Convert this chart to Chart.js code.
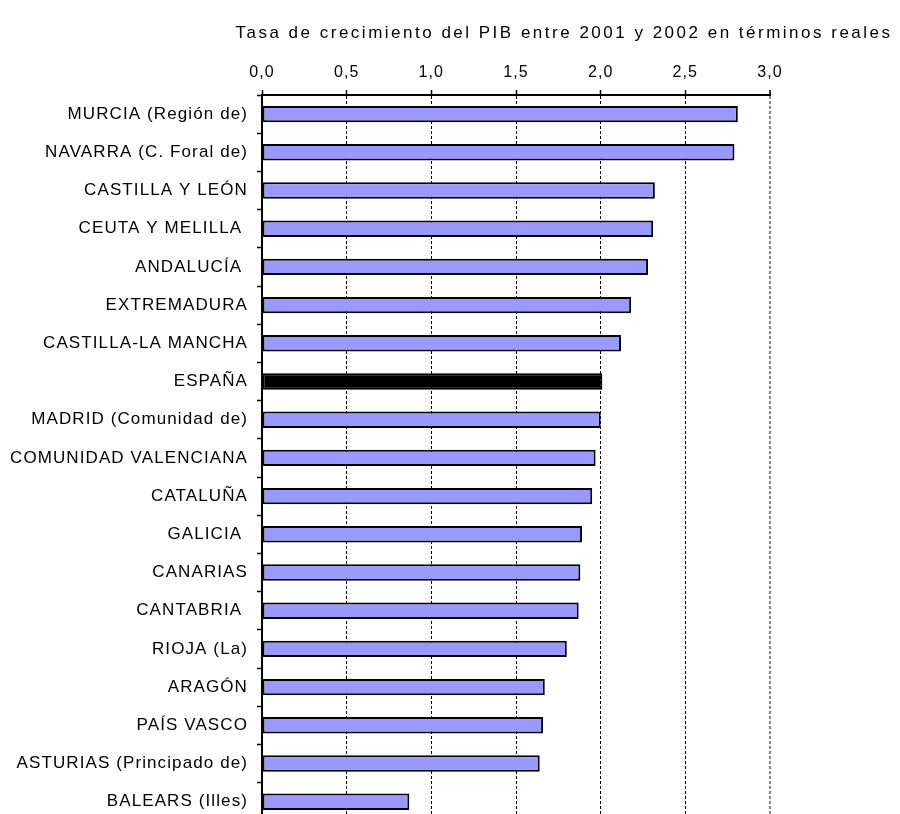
<!DOCTYPE html>
<html>
<head>
<meta charset="utf-8">
<script src="https://cdn.jsdelivr.net/npm/chart.js@4.4.1/dist/chart.umd.min.js"></script>
<style>
  html, body { margin: 0; padding: 0; background: #fff; overflow: hidden; width: 900px; height: 814px; }
  #wrap { position: absolute; left: 0; top: 0; width: 900px; height: 840px; }
</style>
</head>
<body>
<div id="wrap"><canvas id="c"></canvas></div>
<script>
const chartTitle = "Tasa de crecimiento del PIB entre 2001 y 2002 en términos reales";
const categories = [
  "MURCIA (Región de)", "NAVARRA (C. Foral de)", "CASTILLA Y LEÓN", "CEUTA Y MELILLA ",
  "ANDALUCÍA ", "EXTREMADURA", "CASTILLA-LA MANCHA", "ESPAÑA", "MADRID (Comunidad de)",
  "COMUNIDAD VALENCIANA", "CATALUÑA", "GALICIA ", "CANARIAS", "CANTABRIA ",
  "RIOJA (La)", "ARAGÓN", "PAÍS VASCO", "ASTURIAS (Principado de)", "BALEARS (Illes)"
];
const growthValues = [2.81, 2.79, 2.32, 2.31, 2.28, 2.18, 2.12, 2.01, 2.00, 1.97, 1.95, 1.89, 1.88, 1.87, 1.80, 1.67, 1.66, 1.64, 0.87];
const highlightCategory = "ESPAÑA";

const FONT = "'Liberation Sans', Arial, sans-serif";
const SPACING = '1.1px';

const spacingPlugin = {
  id: 'spacing',
  beforeLayout(chart) { chart.ctx.letterSpacing = SPACING; },
  beforeDraw(chart) { chart.ctx.letterSpacing = SPACING; },
  afterDraw(chart) {
    const ctx = chart.ctx;
    ctx.save();
    ctx.letterSpacing = '2.5px';
    ctx.font = "17px " + FONT;
    ctx.fillStyle = '#000';
    ctx.textAlign = 'center';
    ctx.textBaseline = 'middle';
    ctx.fillText(chartTitle, 564, 33);
    ctx.restore();
  }
};

new Chart(document.getElementById('c'), {
  type: 'bar',
  data: {
    labels: categories,
    datasets: [{
      data: growthValues,
      backgroundColor: categories.map(c => c.trim() === highlightCategory ? '#000000' : '#9999FF'),
      borderColor: '#000000',
      borderWidth: 2,
      borderSkipped: false,
      barPercentage: 0.43,
      categoryPercentage: 1.0
    }]
  },
  options: {
    indexAxis: 'y',
    responsive: true,
    maintainAspectRatio: false,
    animation: false,
    layout: { padding: { left: 0, right: 130, top: 0, bottom: 0 } },
    plugins: { legend: { display: false }, tooltip: { enabled: false }, title: { display: false } },
    scales: {
      x: {
        position: 'top',
        min: 0, max: 3,
        ticks: {
          stepSize: 0.5,
          color: '#000',
          font: { family: FONT, size: 16 },
          padding: 8,
          callback: v => v.toFixed(1).replace('.', ',')
        },
        grid: {
          color: ctx => (ctx.tick && ctx.tick.value === 3) ? '#888888' : '#000000',
          lineWidth: ctx => (ctx.tick && ctx.tick.value === 3) ? 2 : 1,
          drawTicks: true,
          tickLength: 5,
          tickColor: '#000000',
          tickWidth: 1.5,
          tickBorderDash: []
        },
        border: { display: true, color: '#000000', width: 2, dash: [3, 2] },
        afterFit: s => { s.height = 95; }
      },
      y: {
        ticks: {
          color: '#000',
          font: { family: FONT, size: 17 },
          padding: 9,
          autoSkip: false
        },
        grid: {
          offset: true,
          drawOnChartArea: false,
          drawTicks: true,
          tickLength: 5,
          tickColor: '#000000',
          tickWidth: 1.5,
          color: '#000000'
        },
        border: { display: true, color: '#000000', width: 2 },
        afterFit: s => { s.width = 262; }
      }
    }
  },
  plugins: [spacingPlugin]
});
</script>
</body>
</html>
